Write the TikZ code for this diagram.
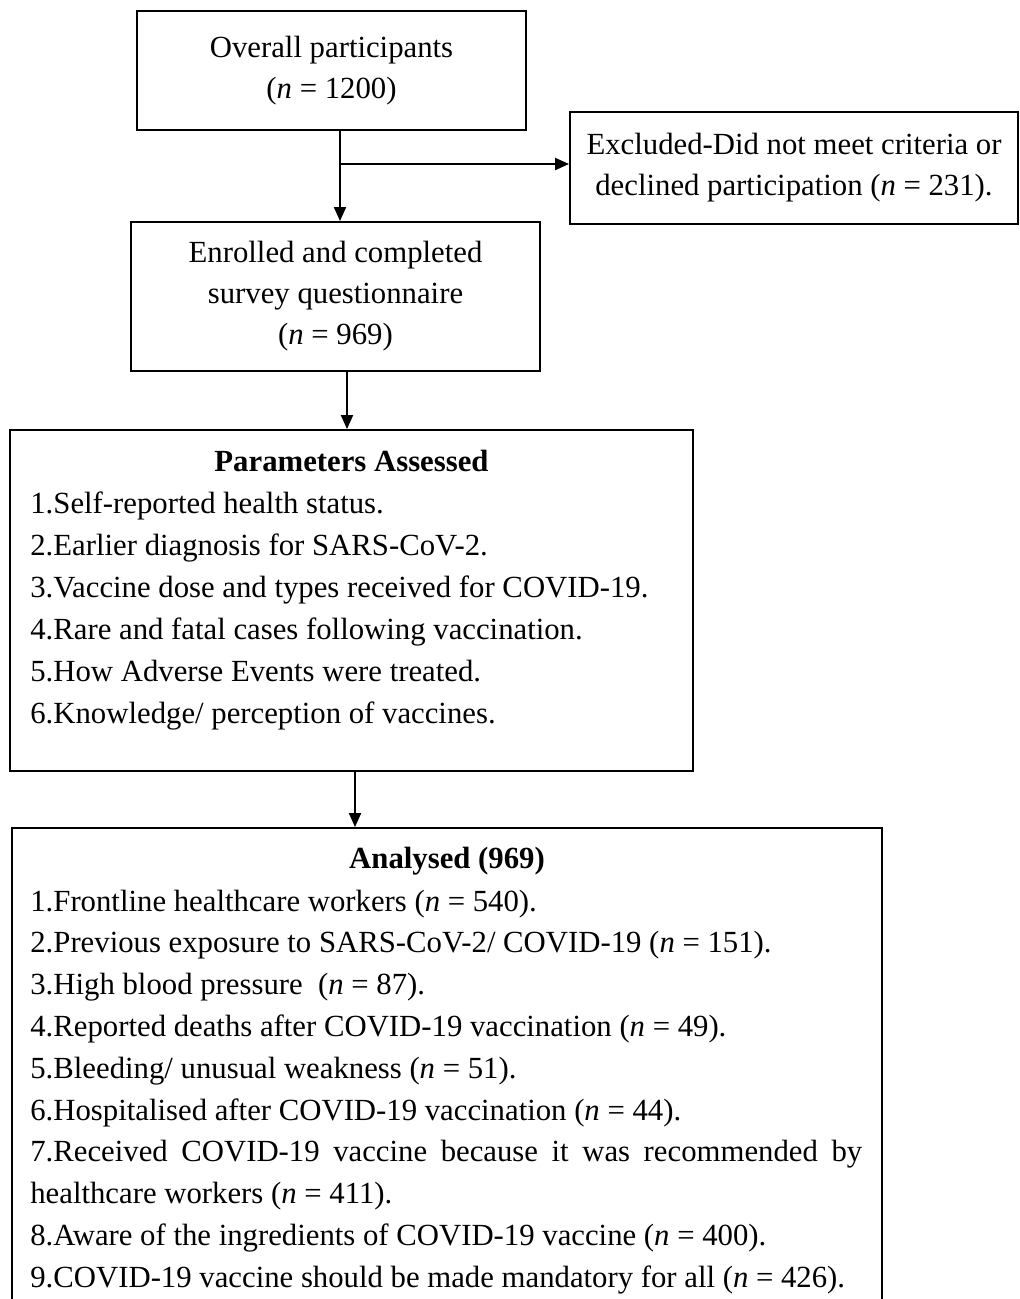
\documentclass[tikz,border=0pt]{standalone}
\usepackage{fontspec}
\setmainfont{Liberation Serif}
\usetikzlibrary{arrows.meta,positioning}

\tikzset{
  box/.style={draw, line width=1.1pt, inner sep=0pt, align=center, font=\fontsize{17.5}{23.3}\selectfont},
  head/.style={anchor=base, inner sep=0pt, font=\fontsize{17.5}{20}\selectfont\bfseries},
  item/.style={anchor=base west, inner sep=0pt, font=\fontsize{17.5}{20}\selectfont},
  arr/.style={line width=1.1pt, -{Triangle[length=0.28cm,width=0.24cm]}}
}

\begin{document}
\begin{tikzpicture}[x=0.02cm, y=-0.02cm]
		\useasboundingbox (0,0) rectangle (1019,1299);
		
		% boxes
		\node[box, minimum width=7.78cm, minimum height=2.38cm] (overall) at (331.5,70.5) {Overall participants\\(\textit{n} = 1200)};
		\node[box, minimum width=8.96cm, minimum height=2.24cm] (excluded) at (794,168) {Excluded-Did not meet criteria or\\declined participation (\textit{n} = 231).};
		\node[box, minimum width=8.18cm, minimum height=2.98cm] (enrolled) at (335.5,296.5) {Enrolled and completed\\survey questionnaire\\(\textit{n} = 969)};
		\node[box, minimum width=13.66cm, minimum height=6.82cm] (params) at (351.5,600.5) {};
		\node[box, minimum width=17.4cm, minimum height=9.9cm] (analysed) at (447,1075.5) {};
		
		% parameters list
		\node[head] (paramshead) at (351.5,471) {Parameters Assessed};
		\foreach \txt [count=\i] in {
			{1.Self-reported health status.},
			{2.Earlier diagnosis for SARS-CoV-2.},
			{3.Vaccine dose and types received for COVID-19.},
			{4.Rare and fatal cases following vaccination.},
			{5.How Adverse Events were treated.},
			{6.Knowledge/ perception of vaccines.}}
			\node[item] (par\i) at (30,{513+42*(\i-1)}) {\txt};
		
		% analysed list
		\node[head] (analysedhead) at (447,868) {Analysed (969)};
		\foreach \txt [count=\i] in {
			{1.Frontline healthcare workers (\textit{n} = 540).},
			{2.Previous exposure to SARS-CoV-2/ COVID-19 (\textit{n} = 151).},
			{3.High blood pressure\ \ (\textit{n} = 87).},
			{4.Reported deaths after COVID-19 vaccination (\textit{n} = 49).},
			{5.Bleeding/ unusual weakness (\textit{n} = 51).},
			{6.Hospitalised after COVID-19 vaccination (\textit{n} = 44).},
			{\makebox[16.64cm][s]{7.Received COVID-19 vaccine because it was recommended by}},
			{healthcare workers (\textit{n} = 411).},
			{8.Aware of the ingredients of COVID-19 vaccine (\textit{n} = 400).},
			{9.COVID-19 vaccine should be made mandatory for all (\textit{n} = 426).}}
			\node[item] (ana\i) at (30,{911+41.8*(\i-1)}) {\txt};
		
		% connectors
		\coordinate (split) at (340,164);
		\draw[line width=1.1pt] (overall.south -| split) -- (split);
		\draw[arr] (split) -- (enrolled.north -| split);
		\draw[arr] (split) -- (excluded.west |- split);
		
		\coordinate (down1) at (347,400);
		\draw[arr] (enrolled.south -| down1) -- (params.north -| down1);
		
		\coordinate (down2) at (355,800);
		\draw[arr] (params.south -| down2) -- (analysed.north -| down2);
\end{tikzpicture}
\end{document}
